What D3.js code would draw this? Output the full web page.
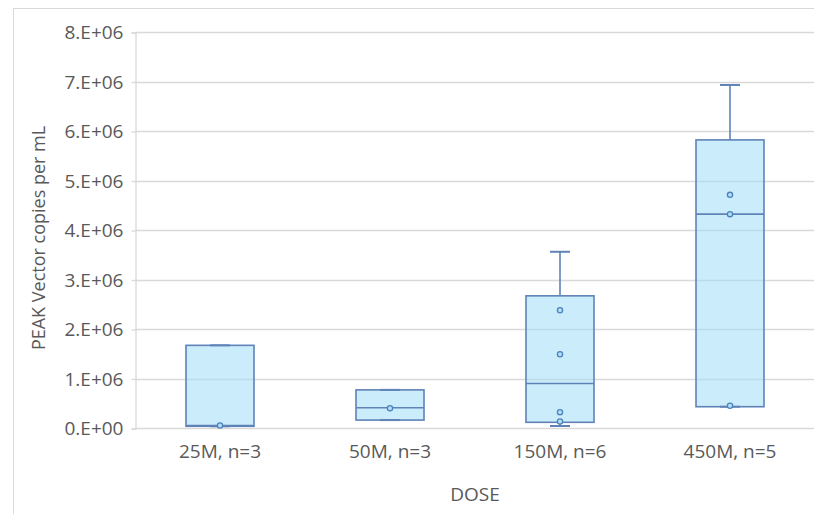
<!DOCTYPE html>
<html>
<head>
<meta charset="utf-8">
<script src="https://cdn.jsdelivr.net/npm/d3@7"></script>
<style>
  html, body { margin: 0; padding: 0; background: #fff; }
  svg { display: block; }
  text { font-family: "Open Sans", sans-serif; fill: #595959; }
</style>
</head>
<body>
<svg id="chart" width="814" height="514"></svg>
<script>
// Peak vector copies per mL by dose group (box-and-whisker summary)
const categories  = ["25M, n=3", "50M, n=3", "150M, n=6", "450M, n=5"];
const whiskerLow  = [0.035e6, 0.16e6, 0.04e6, 0.43e6];
const quartile1   = [0.035e6, 0.16e6, 0.115e6, 0.43e6];
const medians     = [0.05e6, 0.41e6, 0.90e6, 4.32e6];
const quartile3   = [1.67e6, 0.77e6, 2.67e6, 5.82e6];
const whiskerHigh = [1.67e6, 0.77e6, 3.56e6, 6.93e6];
const innerPoints = [
  [0.05e6],
  [0.40e6],
  [2.38e6, 1.49e6, 0.32e6, 0.13e6],
  [4.71e6, 4.32e6, 0.45e6]
];
const yTicks = [0, 1e6, 2e6, 3e6, 4e6, 5e6, 6e6, 7e6, 8e6];
const yTickLabels = ["0.E+00", "1.E+06", "2.E+06", "3.E+06", "4.E+06", "5.E+06", "6.E+06", "7.E+06", "8.E+06"];
const yTitle = "PEAK Vector copies per mL";
const xTitle = "DOSE";

const svg = d3.select("#chart");
const plot = { left: 135, right: 815, top: 32, bottom: 428 };

const x = d3.scaleBand()
  .domain(categories)
  .range([plot.left, plot.right])
  .paddingInner(0.6)
  .paddingOuter(0.3);

const y = d3.scaleLinear()
  .domain([0, 8e6])
  .range([plot.bottom, plot.top]);

// chart-area frame
svg.append("line")
  .attr("x1", 13.5).attr("x2", 13.5).attr("y1", 8).attr("y2", 514)
  .attr("stroke", "#d9d9d9").attr("stroke-width", 1);
svg.append("line")
  .attr("x1", 13).attr("x2", 814).attr("y1", 8.5).attr("y2", 8.5)
  .attr("stroke", "#d9d9d9").attr("stroke-width", 1);

// horizontal gridlines
svg.append("g")
  .selectAll("line")
  .data(yTicks)
  .join("line")
  .attr("x1", plot.left).attr("x2", 814)
  .attr("y1", d => Math.round(y(d)) + 0.5)
  .attr("y2", d => Math.round(y(d)) + 0.5)
  .attr("stroke", "#d9d9d9").attr("stroke-width", 1.3);

// y axis
const yAxis = d3.axisLeft(y)
  .tickValues(yTicks)
  .tickFormat((d, i) => yTickLabels[i])
  .tickSize(4)
  .tickPadding(8);
const gy = svg.append("g")
  .attr("transform", `translate(${plot.left + 0.5},0.5)`)
  .call(yAxis);
gy.select(".domain").attr("stroke", "#d9d9d9").attr("stroke-width", 1.3);
gy.selectAll(".tick line").attr("stroke", "#d9d9d9").attr("stroke-width", 1.3);
gy.selectAll(".tick text")
  .style("font-family", "'Open Sans', sans-serif")
  .style("font-size", "19px")
  .attr("fill", "#595959");

// x axis labels
const xAxis = d3.axisBottom(x).tickSize(0).tickPadding(17);
const gx = svg.append("g")
  .attr("transform", `translate(0,${plot.bottom})`)
  .call(xAxis);
gx.select(".domain").remove();
gx.selectAll(".tick text")
  .style("font-family", "'Open Sans', sans-serif")
  .style("font-size", "19px")
  .attr("fill", "#595959");

// boxes
const boxStroke = "#5f83b8";
const groups = svg.append("g")
  .selectAll("g")
  .data(categories)
  .join("g");

const bw = x.bandwidth();
const capHalf = 10;

// whiskers
groups.append("line")
  .attr("x1", d => x(d) + bw / 2).attr("x2", d => x(d) + bw / 2)
  .attr("y1", (d, i) => y(quartile3[i])).attr("y2", (d, i) => y(whiskerHigh[i]))
  .attr("stroke", boxStroke).attr("stroke-width", 1.6);
groups.append("line")
  .attr("x1", d => x(d) + bw / 2).attr("x2", d => x(d) + bw / 2)
  .attr("y1", (d, i) => y(quartile1[i])).attr("y2", (d, i) => y(whiskerLow[i]))
  .attr("stroke", boxStroke).attr("stroke-width", 1.6);

// box body
groups.append("rect")
  .attr("x", d => x(d))
  .attr("width", bw)
  .attr("y", (d, i) => y(quartile3[i]))
  .attr("height", (d, i) => y(quartile1[i]) - y(quartile3[i]))
  .attr("fill", "rgba(160, 220, 245, 0.55)")
  .attr("stroke", boxStroke).attr("stroke-width", 1.6);

// whisker caps
groups.append("line")
  .attr("x1", d => x(d) + bw / 2 - capHalf).attr("x2", d => x(d) + bw / 2 + capHalf)
  .attr("y1", (d, i) => y(whiskerHigh[i])).attr("y2", (d, i) => y(whiskerHigh[i]))
  .attr("stroke", boxStroke).attr("stroke-width", 2);
groups.append("line")
  .attr("x1", d => x(d) + bw / 2 - capHalf).attr("x2", d => x(d) + bw / 2 + capHalf)
  .attr("y1", (d, i) => y(whiskerLow[i])).attr("y2", (d, i) => y(whiskerLow[i]))
  .attr("stroke", boxStroke).attr("stroke-width", 2);

// median line
groups.append("line")
  .attr("x1", d => x(d)).attr("x2", d => x(d) + bw)
  .attr("y1", (d, i) => y(medians[i])).attr("y2", (d, i) => y(medians[i]))
  .attr("stroke", boxStroke).attr("stroke-width", 1.6);

// inner data points
groups.each(function (d, i) {
  d3.select(this).selectAll("circle")
    .data(innerPoints[i])
    .join("circle")
    .attr("cx", x(d) + bw / 2)
    .attr("cy", v => y(v))
    .attr("r", 2.6)
    .attr("fill", "#b5e0f5")
    .attr("stroke", "#4a82be")
    .attr("stroke-width", 1.3);
});

// axis titles
svg.append("text")
  .attr("transform", `translate(45,${(plot.top + plot.bottom) / 2 + 8}) rotate(-90)`)
  .attr("text-anchor", "middle")
  .style("font-size", "18px")
  .text(yTitle);

svg.append("text")
  .attr("x", (plot.left + plot.right) / 2)
  .attr("y", 501)
  .attr("text-anchor", "middle")
  .style("font-size", "19px")
  .text(xTitle);
</script>
</body>
</html>
